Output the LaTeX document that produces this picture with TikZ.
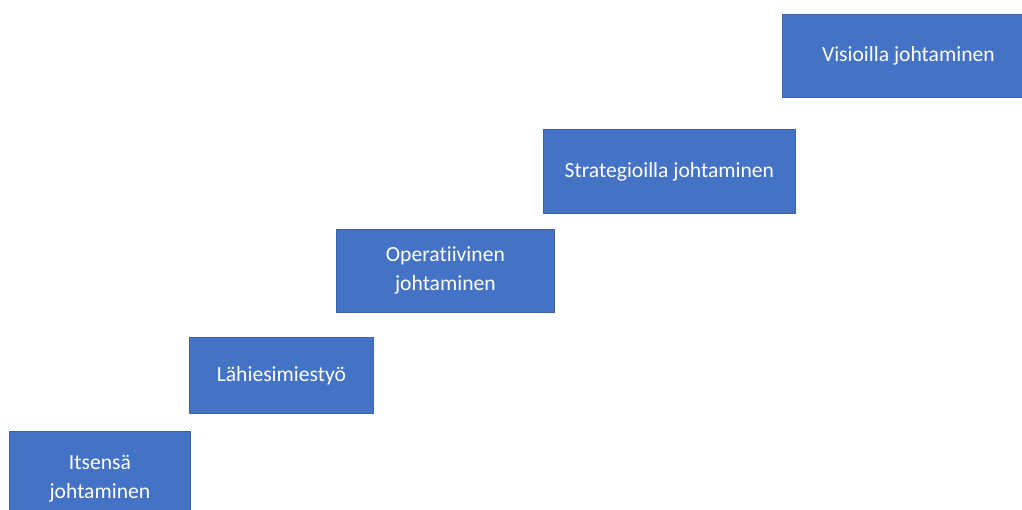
\documentclass[tikz,border=0pt]{standalone}
\usepackage{fontspec}
\setmainfont[Ligatures=NoCommon]{Carlito}
\definecolor{boxblue}{HTML}{4472C4}
\definecolor{boxedge}{HTML}{3A64B0}
\begin{document}
\begin{tikzpicture}[x=1pt, y=-1pt, every node/.style={font=\fontsize{21.6}{29}\selectfont}]
            \useasboundingbox (0,0) rectangle (1022,510);
            \tikzset{stepbox/.style={rectangle, draw=boxedge, line width=0.8pt, fill=boxblue, text=white, align=center, inner sep=0pt, anchor=north west}}
            \foreach \k/\x/\y/\w/\h/\txt in {1/9/431/181/94/{Itsensä\\johtaminen},
                                            2/189/337/184/76/{Lähiesimiestyö},
                                            3/336/229/218/83/{Operatiivinen\\johtaminen},
                                            4/543/129/252/84/{Strategioilla johtaminen},
                                            5/782/14/252/83/{Visioilla johtaminen}} {
                \node[stepbox, minimum width=\w pt, minimum height=\h pt] (s\k) at (\x,\y) {\txt};
            }
        \end{tikzpicture}
\end{document}
